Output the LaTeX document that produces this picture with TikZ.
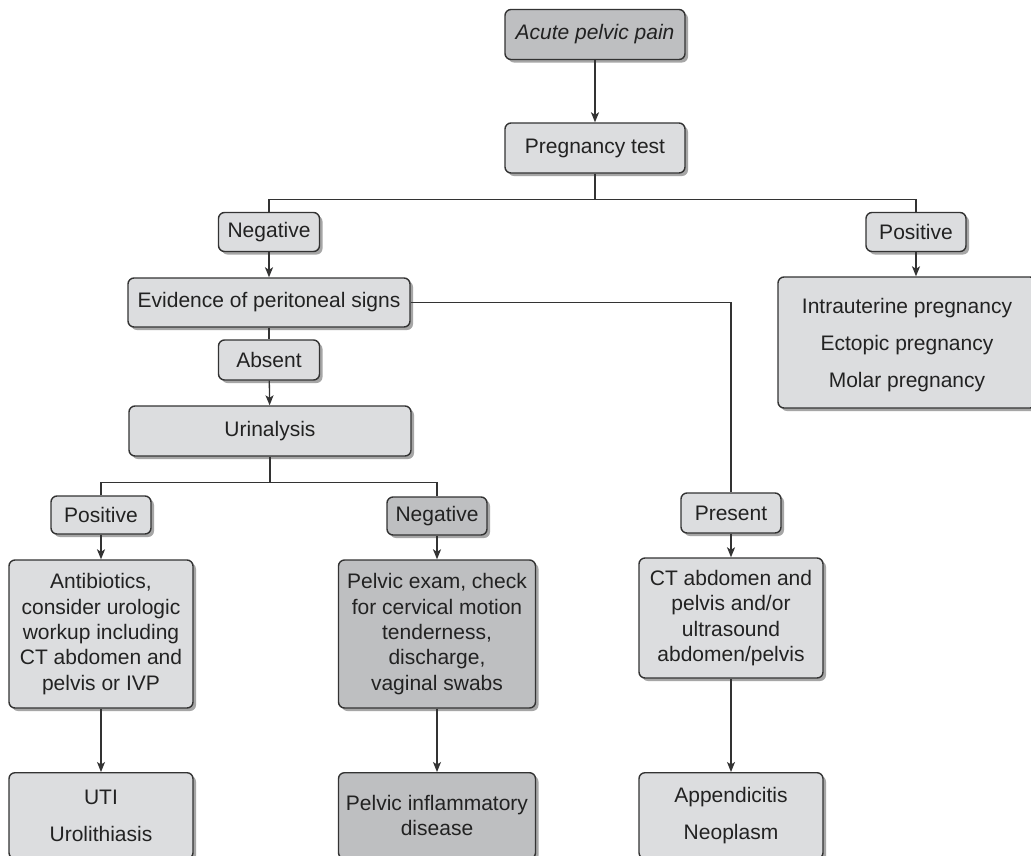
\documentclass[tikz,border=0pt]{standalone}
\usepackage{fontspec}
\setmainfont{Liberation Sans}
\usetikzlibrary{arrows.meta,shadows}
\definecolor{lightbox}{HTML}{DCDDDF}
\definecolor{darkbox}{HTML}{BEBFC1}
\definecolor{edge}{HTML}{333333}
\definecolor{txt}{HTML}{222222}
\definecolor{shade}{HTML}{A6A6A6}
\begin{document}
\begin{tikzpicture}[x=1pt,y=-1pt,
  font=\fontsize{21}{25.3}\selectfont,
  box/.style={draw=edge, line width=1.4pt, rounded corners=6pt, fill=lightbox,
    text=txt, align=center, inner sep=0pt,
    drop shadow={shadow xshift=3pt, shadow yshift=-3pt, fill=shade, opacity=1}},
  darkb/.style={box, fill=darkbox},
  conn/.style={draw=edge, line width=1.3pt},
  arr/.style={conn, -{Stealth[length=10pt,width=8pt,inset=2.5pt]}}]
\useasboundingbox (0,0) rectangle (1031,855);
\clip (0,0) rectangle (1031,855);
\fill[white] (0,0) rectangle (1031,855);

\node[darkb, minimum width=180pt, minimum height=50pt] (acute) at (595,34.5) {\itshape Acute pelvic pain};
\node[box, minimum width=180pt, minimum height=50pt] (preg) at (595,148) {Pregnancy test};
\node[box, minimum width=101pt, minimum height=39pt] (neg1) at (269,232) {Negative};
\node[box, minimum width=100pt, minimum height=39pt] (pos1) at (916,232) {Positive};
\node[box, minimum width=282pt, minimum height=49pt] (evid) at (269,302.5) {Evidence of peritoneal signs};
\node[box, minimum width=101pt, minimum height=40pt] (absent) at (269,360) {Absent};
\node[box, minimum width=282pt, minimum height=50pt] (urin) at (270,431) {Urinalysis};
\node[box, minimum width=258pt, minimum height=131pt] (posres) at (907,342.5) {\raisebox{-3pt}[\height][\depth]{\begin{tabular}{@{}c@{}}Intrauterine pregnancy\\[11.4pt]Ectopic pregnancy\\[11.4pt]Molar pregnancy\end{tabular}}};
\node[box, minimum width=100pt, minimum height=38pt] (pos2) at (101,515) {Positive};
\node[darkb, minimum width=100pt, minimum height=38pt] (neg2) at (437,516) {Negative};
\node[box, minimum width=100pt, minimum height=40pt] (present) at (731,513) {Present};
\node[box, minimum width=184pt, minimum height=148pt] (anti) at (101,634) {Antibiotics,\\consider urologic\\workup including\\CT abdomen and\\pelvis or IVP};
\node[darkb, minimum width=197pt, minimum height=148pt] (pelv) at (437,634) {Pelvic exam, check\\for cervical motion\\tenderness,\\discharge,\\vaginal swabs};
\node[box, minimum width=184pt, minimum height=120pt] (ct) at (731,618) {CT abdomen and\\pelvis and/or\\ultrasound\\abdomen/pelvis};
\node[box, minimum width=184pt, minimum height=86pt, anchor=north] (uti) at (101,772) {UTI\\[11.4pt]Urolithiasis};
\node[darkb, minimum width=197pt, minimum height=86pt, anchor=north] (pid) at (437,772) {Pelvic inflammatory\\disease};
\node[box, minimum width=184pt, minimum height=86pt, anchor=north] (app) at (731,772) {Appendicitis\\[11.4pt]Neoplasm};

\draw[arr] (acute) -- (preg);
\path (preg.south) ++(0,25.5) coordinate (b1);
\draw[conn] (preg.south) -- (b1);
\draw[conn] (neg1.north) |- (b1) -| (pos1.north);
\draw[arr] (neg1) -- (evid);
\draw[conn] (evid) -- (absent);
\draw[arr] (absent) -- (urin);
\draw[arr] (pos1.south) -- (pos1.south |- posres.north);
\draw[conn] (evid.east) -| (present.north);
\path (urin.south) ++(0,26) coordinate (b2);
\draw[conn] (urin.south) -- (b2);
\draw[conn] (pos2.north) |- (b2) -| (neg2.north);
\draw[arr] (pos2) -- (anti);
\draw[arr] (anti) -- (uti);
\draw[arr] (neg2) -- (pelv);
\draw[arr] (pelv) -- (pid);
\draw[arr] (present) -- (ct);
\draw[arr] (ct) -- (app);
\end{tikzpicture}
\end{document}
